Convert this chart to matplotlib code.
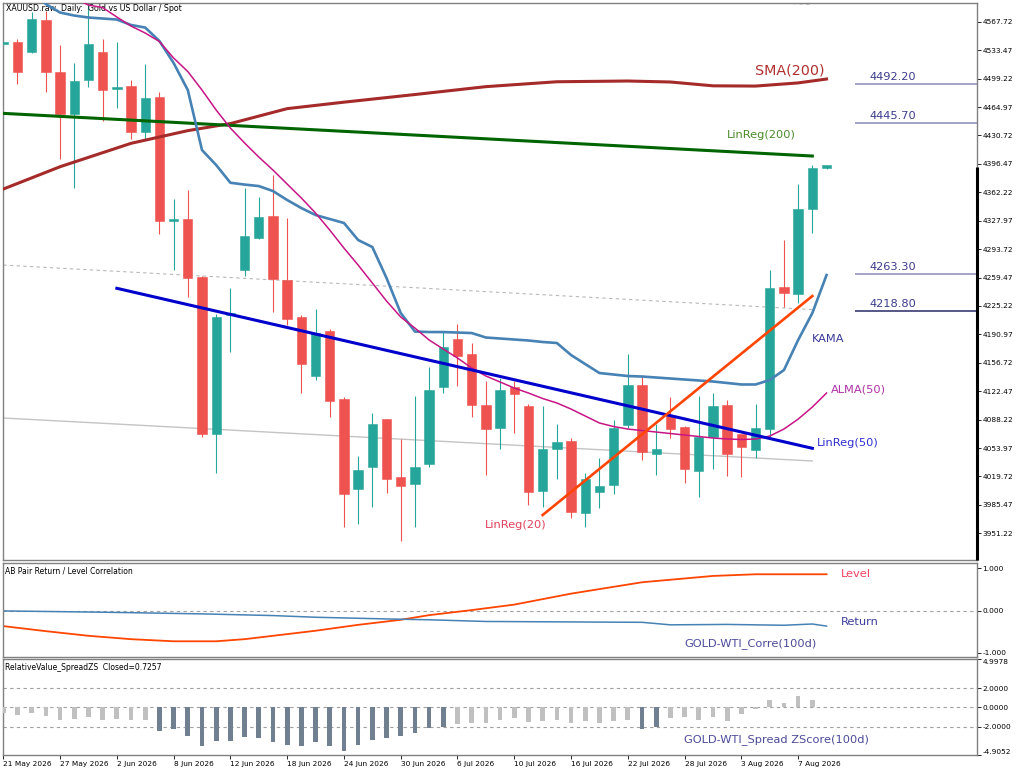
import numpy as np
import matplotlib.pyplot as plt

# ---------- Data ----------

date_labels = ['21 May 2026', '27 May 2026', '2 Jun 2026', '8 Jun 2026', '12 Jun 2026',
               '18 Jun 2026', '24 Jun 2026', '30 Jun 2026', '6 Jul 2026', '10 Jul 2026',
               '16 Jul 2026', '22 Jul 2026', '28 Jul 2026', '3 Aug 2026', '7 Aug 2026']
date_label_bars = [0, 4, 8, 12, 16, 20, 24, 28, 32, 36, 40, 44, 48, 52, 56]

opens = [4541.0, 4543.3, 4531.2, 4569.8, 4507.1, 4456.5, 4497.5, 4531.2, 4486.6, 4490.2,
         4434.8, 4477.0, 4327.6, 4330.0, 4260.1, 4070.9, 4214.3, 4268.5, 4307.1, 4333.6,
         4256.5, 4211.9, 4140.8, 4195.0, 4113.1, 4004.6, 4031.1, 4088.9, 4019.1, 4010.6,
         4034.7, 4127.5, 4185.4, 4167.3, 4105.9, 4078.1, 4127.5, 4104.6, 4002.2, 4052.8,
         4062.5, 3975.7, 4001.0, 4009.4, 4081.8, 4129.9, 4046.8, 4092.6, 4079.3, 4026.3,
         4067.3, 4105.9, 4070.9, 4051.6, 4076.9, 4248.0, 4239.6, 4342.0, 4392.0]
highs = [4544.0, 4546.9, 4579.4, 4580.6, 4539.6, 4518.0, 4592.0, 4546.9, 4543.3, 4497.5,
         4516.8, 4483.0, 4354.1, 4364.9, 4261.3, 4215.5, 4246.8, 4367.3, 4356.5, 4383.0,
         4331.2, 4214.3, 4221.5, 4197.4, 4115.5, 4044.4, 4096.2, 4089.5, 4064.9, 4116.7,
         4151.4, 4195.0, 4203.4, 4180.6, 4134.7, 4138.4, 4134.7, 4107.0, 4104.6, 4083.0,
         4066.1, 4023.9, 4042.0, 4087.8, 4167.3, 4142.0, 4083.0, 4115.5, 4081.0, 4116.7,
         4120.3, 4111.9, 4071.5, 4107.0, 4268.5, 4304.7, 4372.2, 4395.0, 4393.8]
lows = [4539.5, 4492.7, 4530.6, 4483.0, 4402.3, 4367.3, 4489.0, 4448.1, 4463.7, 4426.4,
        4425.2, 4311.9, 4268.5, 4236.0, 4067.3, 4023.9, 4169.7, 4261.3, 4305.9, 4217.9,
        4202.2, 4120.3, 4135.9, 4091.4, 3958.8, 3962.4, 3982.9, 3999.8, 3941.9, 3958.8,
        4031.1, 4120.3, 4128.7, 4091.4, 4021.5, 4052.8, 4072.1, 3985.3, 3982.9, 4016.7,
        3969.7, 3958.8, 3981.7, 3998.6, 4078.1, 4039.6, 4021.5, 4066.1, 4011.8, 3995.0,
        4028.7, 4020.3, 4019.1, 4042.0, 4067.3, 4223.9, 4228.8, 4313.1, 4390.2]
closes = [4542.5, 4507.1, 4571.5, 4507.1, 4456.5, 4496.3, 4540.9, 4485.4, 4487.8, 4434.8,
          4475.8, 4327.6, 4330.0, 4258.9, 4070.9, 4211.9, 4216.1, 4309.5, 4332.4, 4257.7,
          4209.5, 4155.2, 4192.6, 4110.7, 3998.6, 4027.5, 4083.0, 4016.7, 4008.2, 4031.1,
          4123.9, 4175.7, 4164.9, 4105.9, 4076.9, 4123.9, 4119.1, 4001.0, 4052.8, 4061.3,
          3976.9, 4016.7, 4008.2, 4078.1, 4129.9, 4049.2, 4052.8, 4076.9, 4028.7, 4067.3,
          4104.6, 4046.8, 4055.2, 4078.1, 4246.8, 4240.8, 4342.0, 4391.4, 4392.6]

sma_bars = [0, 4, 9, 13, 16, 20, 24, 29, 34, 39, 44, 47, 50, 53, 56, 58]
sma200 = [4366.1, 4393.0, 4421.2, 4436.5, 4445.0, 4463.0, 4470.8, 4480.0, 4489.5,
          4495.4, 4496.3, 4495.1, 4490.5, 4490.2, 4494.0, 4498.7]

kama_first = 2
kama = [4606.0, 4589.0, 4578.8, 4575.2, 4572.8, 4571.6, 4570.4, 4563.8, 4560.7, 4544.5,
        4518.0, 4485.4, 4413.1, 4395.0, 4373.7, 4371.5, 4369.7, 4363.7, 4352.9, 4343.2,
        4334.8, 4330.0, 4325.2, 4304.7, 4296.2, 4258.9, 4216.7, 4194.4, 4193.8, 4193.8,
        4193.2, 4192.6, 4187.2, 4186.0, 4184.8, 4183.6, 4181.8, 4180.6, 4166.1, 4155.2,
        4144.4, 4142.6, 4140.8, 4140.2, 4139.0, 4137.8, 4136.6, 4135.4, 4134.2, 4132.4,
        4130.6, 4130.6, 4136.0, 4148.0, 4184.2, 4216.7, 4262.5]

alma_first = 5
alma50 = [4596.3, 4587.8, 4584.8, 4573.4, 4562.5, 4554.1, 4543.9, 4524.0, 4507.7, 4485.4,
          4461.3, 4439.6, 4421.6, 4404.7, 4389.0, 4372.1, 4355.3, 4337.2, 4316.7, 4295.0,
          4274.5, 4252.9, 4231.2, 4211.9, 4198.6, 4184.2, 4173.3, 4162.5, 4150.4, 4140.8,
          4133.6, 4126.3, 4120.3, 4113.7, 4108.3, 4101.0, 4092.6, 4084.2, 4079.9, 4076.9,
          4075.1, 4073.3, 4071.5, 4069.7, 4067.9, 4066.1, 4064.9, 4064.3, 4064.9, 4068.5,
          4076.9, 4088.9, 4103.4, 4120.3]

# straight regression lines: [first bar, last bar] and their values
lr200_bars = [0, 57]
lr200 = [4457.3, 4405.9]
lr200_up1 = [4636.0, 4588.5]
lr200_dn1 = [4274.5, 4220.9]
lr200_dn2 = [4090.2, 4038.4]
lr50_bars = [8, 57]
lr50 = [4246.5, 4053.7]
lr20_bars = [38, 57]
lr20 = [3973.3, 4237.2]

levels = [4492.20, 4445.70, 4263.30, 4218.80]
level_colors = ['#8a8ab8', '#8a8ab8', '#8a8ab8', '#2a2a66']

price_ticks = [4567.72, 4533.47, 4499.22, 4464.97, 4430.72, 4396.47, 4362.22, 4327.97,
               4293.72, 4259.47, 4225.22, 4190.97, 4156.72, 4122.47, 4088.22, 4053.97,
               4019.72, 3985.47, 3951.22]

level_corr_bars = [0, 3, 6, 9, 12, 15, 17, 19, 22, 25, 28, 30, 33, 36, 40, 45, 50, 53, 58]
level_corr = [-0.37, -0.49, -0.60, -0.68, -0.73, -0.73, -0.68, -0.60, -0.48, -0.34,
              -0.22, -0.11, 0.01, 0.14, 0.40, 0.67, 0.82, 0.86, 0.86]
return_corr_bars = [0, 7, 14, 19, 22, 27, 30, 34, 45, 47, 51, 55, 57, 58]
return_corr = [-0.01, -0.04, -0.08, -0.12, -0.16, -0.20, -0.22, -0.26, -0.28, -0.34,
               -0.33, -0.35, -0.32, -0.37]

zscore = [-0.56, -0.81, -0.64, -0.91, -1.28, -1.18, -1.01, -1.28, -1.18, -1.35,
          -1.35, -2.45, -2.28, -3.03, -4.05, -3.47, -3.47, -3.13, -3.23, -3.58,
          -3.88, -4.05, -3.58, -4.05, -4.50, -3.88, -3.40, -3.20, -3.03, -2.69,
          -2.17, -2.02, -1.76, -1.66, -1.66, -1.32, -1.15, -1.49, -1.42, -1.28,
          -1.59, -1.42, -1.59, -1.42, -1.32, -2.28, -2.03, -1.08, -1.01, -1.28,
          -1.01, -1.42, -0.74, -0.15, 0.77, 0.42, 1.14, 0.73]
z_ticks = [4.9978, 2.0, 0.0, -2.0, -4.9052]

# ---------- Figure ----------

plt.rcParams['font.family'] = ['DejaVu Sans']
fig = plt.figure(figsize=(10.24, 7.73), dpi=100)
W, H = 1024.0, 773.0

def panel(top, bottom):
    return fig.add_axes([3 / W, 1 - bottom / H, 974 / W, (bottom - top) / H])

ax = panel(3, 560)
ax2 = panel(563.3, 657.3)
ax3 = panel(659.3, 754.5)

xlim = (-0.02, 68.6)
spine_c = '#808080'
for a in (ax, ax2, ax3):
    a.set_xlim(*xlim)
    for s in a.spines.values():
        s.set_color(spine_c)
        s.set_linewidth(1.0)
    a.yaxis.tick_right()
    a.tick_params(axis='y', direction='out', length=3, width=0.6, pad=1,
                  labelsize=5.3, colors='black')
    a.set_xticks([])

# ---------- Main price panel ----------

ax.set_ylim(3919.1, 4590.3)
ax.set_yticks(price_ticks)
ax.set_yticklabels([f'{v:.2f}' for v in price_ticks])

bars = np.arange(len(opens))
o = np.array(opens); c = np.array(closes)
up = c >= o
cols = np.where(up, '#26a69a', '#ef5350')

# regression channel
ax.plot(lr200_bars, lr200_up1, color='#b8b8b8', lw=0.8, ls=(0, (3, 3)))
ax.plot(lr200_bars, lr200_dn1, color='#b8b8b8', lw=0.8, ls=(0, (3, 3)))
ax.plot(lr200_bars, lr200_dn2, color='#c4c4c4', lw=1.0)

ax.vlines(bars, lows, highs, colors=cols, lw=0.8, zorder=2)
body_lo = np.minimum(o, c)
body_h = np.maximum(np.abs(c - o), 2.5)
ax.bar(bars, body_h, bottom=body_lo, width=0.66, color=cols, edgecolor=cols,
       linewidth=0.4, zorder=3)

ax.plot(sma_bars, sma200, color='#a52a2a', lw=2.2, zorder=4)
ax.plot(lr200_bars, lr200, color='#006400', lw=2.2, zorder=4)
ax.plot(np.arange(kama_first, kama_first + len(kama)), kama, color='#4682b4', lw=1.9, zorder=4)
ax.plot(np.arange(alma_first, alma_first + len(alma50)), alma50, color='#c71585', lw=1.1, zorder=4)
ax.plot(lr50_bars, lr50, color='#0000cd', lw=2.2, zorder=4)
ax.plot(lr20_bars, lr20, color='#ff4500', lw=1.9, zorder=4)

for lv, lc in zip(levels, level_colors):
    ax.hlines(lv, 60.0, xlim[1], colors=lc, lw=1.1, zorder=4)
    ax.text(61.0, lv + 8.5, f'{lv:.2f}', color='#3c3c8c', fontsize=8.2,
            ha='left', va='center')

# current price marker on the scale
ax.vlines(xlim[1], ax.get_ylim()[0], closes[-1], colors='black', lw=2.2,
          clip_on=False, zorder=6)

ax.text(52.96, 4509.5, 'SMA(200)', color='#b03030', fontsize=10.3, ha='left', va='center')
ax.text(51.0, 4431.2, 'LinReg(200)', color='#4a8a2a', fontsize=8.2, ha='left', va='center')
ax.text(57.0, 4185.4, 'KAMA', color='#3a3a9a', fontsize=8.2, ha='left', va='center')
ax.text(58.3, 4125.1, 'ALMA(50)', color='#b030a8', fontsize=8.2, ha='left', va='center')
ax.text(57.3, 4060.0, 'LinReg(50)', color='#3030d0', fontsize=8.2, ha='left', va='center')
ax.text(33.9, 3961.2, 'LinReg(20)', color='#e0405a', fontsize=8.2, ha='left', va='center')

ax.text(0.003, 0.991, 'XAUUSD.raw, Daily:  Gold vs US Dollar / Spot', transform=ax.transAxes,
        fontsize=5.7, ha='left', va='center', color='black')

# ---------- Correlation panel ----------

ax2.set_ylim(-1.11, 1.12)
ax2.set_yticks([1.0, 0.0, -1.0])
ax2.set_yticklabels(['1.000', '0.000', '-1.000'])
ax2.axhline(0.0, color='#a0a0a0', lw=0.8, ls=(0, (3, 3)))
ax2.plot(level_corr_bars, level_corr, color='#ff4500', lw=1.3)
ax2.plot(return_corr_bars, return_corr, color='#4682b4', lw=1.1)
ax2.text(0.002, 0.918, 'AB Pair Return / Level Correlation', transform=ax2.transAxes,
         fontsize=5.5, ha='left', va='center')
ax2.text(59.0, 0.865, 'Level', color='#f04060', fontsize=8.2, ha='left', va='center')
ax2.text(59.0, -0.27, 'Return', color='#3c3c9c', fontsize=8.2, ha='left', va='center')
ax2.text(47.96, -0.79, 'GOLD-WTI_Corre(100d)', color='#4a4a9a', fontsize=8.2,
         ha='left', va='center')

# ---------- Spread z-score panel ----------

ax3.set_ylim(z_ticks[-1], z_ticks[0])
ax3.set_yticks(z_ticks)
ax3.set_yticklabels([f'{v:.4f}' for v in z_ticks])
tl = ax3.get_yticklabels()
tl[0].set_va('top')
tl[-1].set_va('bottom')
for lv in (2.0, 0.0, -2.0):
    ax3.axhline(lv, color='#a0a0a0', lw=0.8, ls=(0, (3, 3)))
z = np.array(zscore)
zcols = np.where(np.abs(z) >= 2.0, '#708090', '#c0c0c0')
ax3.bar(np.arange(len(z)), z, width=0.33, color=zcols, zorder=3)
ax3.text(0.002, 0.919, 'RelativeValue_SpreadZS  Closed=0.7257', transform=ax3.transAxes,
         fontsize=5.5, ha='left', va='center')
ax3.text(47.96, -3.3, 'GOLD-WTI_Spread ZScore(100d)', color='#4a4a9a', fontsize=8.2,
         ha='left', va='center')

ax3.set_xticks(date_label_bars)
ax3.set_xticklabels(date_labels)
ax3.tick_params(axis='x', direction='out', length=3, width=0.6, pad=1.5, labelsize=5.3)
for lab in ax3.get_xticklabels():
    lab.set_ha('left')

fig.savefig('out.png', dpi=100, facecolor='white')
